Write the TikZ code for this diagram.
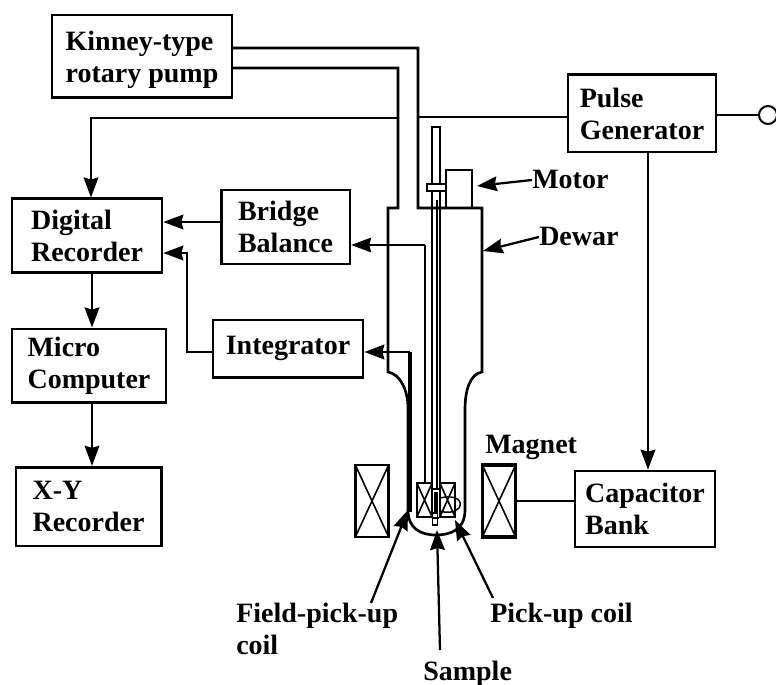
\documentclass[tikz,border=0pt]{standalone}
\usepackage{fontspec}
\setmainfont{Liberation Serif}
\usetikzlibrary{arrows.meta,positioning,calc}

\begin{document}
\begin{tikzpicture}[
  x=0.75pt, y=-0.75pt,
  every node/.style={font=\fontsize{21}{24}\selectfont\bfseries},
  unit/.style={draw, line width=2pt, inner sep=0pt, align=left},
  coil/.style={draw, line width=#1, inner sep=0pt, path picture={
    \draw[line width=1.2pt] (path picture bounding box.north west) -- (path picture bounding box.south east)
      (path picture bounding box.north east) -- (path picture bounding box.south west);}},
  tag/.style={inner sep=0pt, anchor=base west},
  wire/.style={line width=1.6pt},
  wall/.style={line width=2pt},
  arr/.style={-{Stealth[length=15pt,width=11pt,inset=1.5pt]}, line width=1.7pt}
]
  \useasboundingbox (0,0) rectangle (776,685);

  \node[unit, minimum width=135pt, minimum height=62pt, text depth=0pt, xshift=3pt]  (pump) at (138,56.5)  {Kinney-type\\rotary pump};
  \node[unit, minimum width=111pt, minimum height=58pt]  (pulse)   at (642,113.5) {Pulse\\Generator};
  \node[unit, minimum width=112.5pt, minimum height=55pt](digital) at (87,235.5)  {Digital\\Recorder};
  \node[unit, minimum width=96.5pt, minimum height=55.5pt](bridge) at (285.5,227) {Bridge\\Balance};
  \node[unit, minimum width=112.5pt, minimum height=43pt](integ)   at (288,348.5) {Integrator};
  \node[unit, minimum width=115.5pt, minimum height=55pt](micro)   at (89,365.5)  {Micro\\Computer};
  \node[unit, minimum width=109pt, minimum height=59pt]  (xy)      at (88.5,506.5){X-Y\\Recorder};
  \node[unit, minimum width=105pt, minimum height=57pt]  (bank)    at (645,509)   {Capacitor\\Bank};

  % Magnet, coils, motor
  \node[coil=2.2pt, minimum width=25pt, minimum height=54pt] (magL) at (372,501) {};
  \node[coil=2.4pt, minimum width=25pt, minimum height=54pt] (magR) at (499,501) {};
  \node[coil=1.2pt, minimum width=11.5pt, minimum height=25.5pt] (coilL) at (424.5,500) {};
  \node[coil=1.2pt, minimum width=11.5pt, minimum height=25.5pt] (coilR) at (447.5,500) {};
  \node[draw, line width=1.8pt, inner sep=0pt, minimum width=19.5pt, minimum height=28.5pt] (motor) at (459,189) {};
  \node[draw, line width=1.5pt, inner sep=0pt, minimum width=6pt, minimum height=272pt, fill=white] (shaft) at (436,308) {};
  \node[draw, line width=1.5pt, inner sep=0pt, minimum width=14pt, minimum height=5pt, fill=white] (collar) at (436.5,187.5) {};
  \node[draw, line width=1.2pt, inner sep=0pt, minimum width=4pt, minimum height=9pt, fill=white] (rod) at (435,519) {};

  \node[tag] (motorlab)  at (532,189)   {Motor};
  \node[tag] (dewarlab)  at (539,246)   {Dewar};
  \node[tag] (magnetlab) at (485,453)   {Magnet};
  \node[tag] (fieldlab)  at (236,622)   {Field-pick-up};
  \node[tag] (coillab)   at (236,654)   {coil};
  \node[tag] (picklab)   at (490,622)   {Pick-up coil};
  \node[tag] (samplelab) at (423,680)   {Sample};
  \node[draw, circle, line width=1.5pt, inner sep=0pt, minimum size=13.5pt] (term) at (768,115) {};

  % Dewar and pump line
  \coordinate (capL) at (232,48);
  \coordinate (capM) at (232,68);
  \draw[wall] (capL) -- (418,48) -- (418,208) -- (482,208) -- (482,372)
    .. controls (470,374) and (465,390) .. (465,410) -- (465,510)
    .. controls (465,530) and (450,535) .. (436,535)
    .. controls (420,535) and (408,528) .. (408,510) -- (408,408)
    .. controls (408,390) and (400,374) .. (388,372) -- (388,208) -- (398,208) -- (398,68) -- (capM);

  % Leads
  \draw[line width=1.5pt] (425,245) -- (coilL.north -| 425,0);
  \draw[line width=1.5pt] (436.5,200) -- (436.5,490);
  \draw[line width=3pt] (436,492) -- (436,514);
  \draw[line width=1.2pt] (coilL.south east) -- (coilR.south west);
  \draw[line width=1.1pt] (440,498) .. controls (458,494) and (463,502) .. (459,508) .. controls (455,513) and (445,513) .. (440,511);
  \draw[arr] (425,245) -- (bridge.east |- 0,245);
  \draw[arr] (410,352) -- (integ.east |- 0,352);
  \draw[line width=3.2pt] (410,352) -- (410,512);

  % Signal paths
  \draw[wire] (pulse.west |- 0,117) -- (418,117);
  \draw[arr] (398,118) -- (91,118) -- (digital.north -| 91,0);
  \draw[wire] (pulse.east |- term) -- (term);
  \draw[arr] (pulse.south -| 648,0) -- (bank.north -| 648,0);
  \draw[wire] (magR.east) -- (bank.west |- magR.east);
  \draw[arr] (bridge.west |- 0,222) -- (digital.east |- 0,222);
  \draw[arr] (integ.west |- 0,352) -- (187,352) -- (187,253) -- (digital.east |- 0,253);
  \foreach \a/\b in {digital/micro, micro/xy}
    \draw[arr] (\a.south -| 92,0) -- (\b.north -| 92,0);

  % Label pointers
  \draw[arr] (motorlab.west) -- (477,186);
  \draw[arr] (dewarlab.west) -- (483,251);
  \draw[arr] (371,603) -- (408,510);
  \draw[arr] (493,598) -- (455,520);
  \draw[arr] (440,650) -- (437,530);
\end{tikzpicture}
\end{document}
